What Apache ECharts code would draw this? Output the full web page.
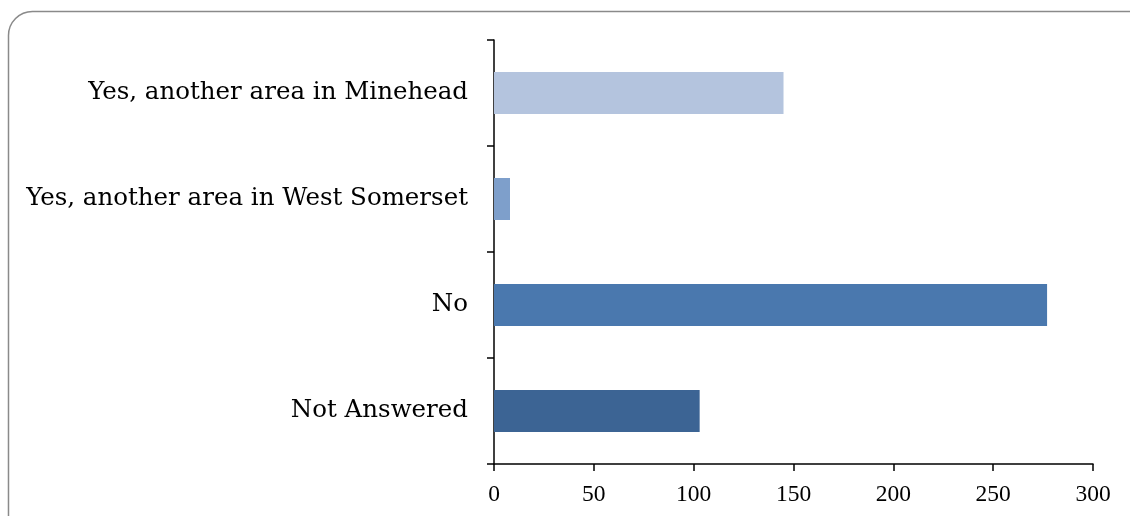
<!DOCTYPE html>
<html>
<head>
<meta charset="utf-8">
<script src="https://cdn.jsdelivr.net/npm/echarts@6/dist/echarts.min.js"></script>
<style>
  html, body { margin: 0; padding: 0; background: #fff; }
  #chart { width: 1130px; height: 516px; }
</style>
</head>
<body>
<div id="chart"></div>
<script>
// answers, top to bottom as shown
const categories = ['Yes, another area in Minehead', 'Yes, another area in West Somerset', 'No', 'Not Answered'];
const counts = [145, 8, 277, 103];
const barColors = ['#b4c4de', '#7e9fcb', '#4a78ae', '#3c6494'];
const xTicks = [0, 50, 100, 150, 200, 250, 300];

const chart = echarts.init(document.getElementById('chart'));

chart.setOption({
  animation: false,
  graphic: [{
    type: 'rect',
    shape: { x: 8.5, y: 11.5, width: 1150, height: 540, r: 24 },
    style: { fill: 'none', stroke: '#8a8a8a', lineWidth: 1.5 },
    silent: true
  }],
  grid: { left: 494, right: 37, top: 40, bottom: 52 },
  xAxis: {
    type: 'value',
    min: xTicks[0],
    max: xTicks[xTicks.length - 1],
    interval: 50,
    splitLine: { show: false },
    axisLine: { show: true, lineStyle: { color: '#000', width: 1.5 } },
    axisTick: { show: true, length: 7, lineStyle: { color: '#000', width: 1.5 } },
    axisLabel: { color: '#000', fontFamily: '"Liberation Serif", serif', fontSize: 23.5, margin: 19 }
  },
  yAxis: {
    type: 'category',
    inverse: true,
    data: categories,
    axisLine: { show: true, lineStyle: { color: '#000', width: 1.5 } },
    axisTick: { show: true, length: 7, lineStyle: { color: '#000', width: 1.5 } },
    axisLabel: {
      color: '#000', fontFamily: '"DejaVu Serif", serif', fontSize: 24.5, margin: 26,
      verticalAlign: 'middle', lineHeight: 30, padding: [6, 0, 0, 0]
    }
  },
  series: [{
    type: 'bar',
    data: counts.map((v, i) => ({ value: v, itemStyle: { color: barColors[i] } })),
    barWidth: 42
  }]
});
</script>
</body>
</html>
